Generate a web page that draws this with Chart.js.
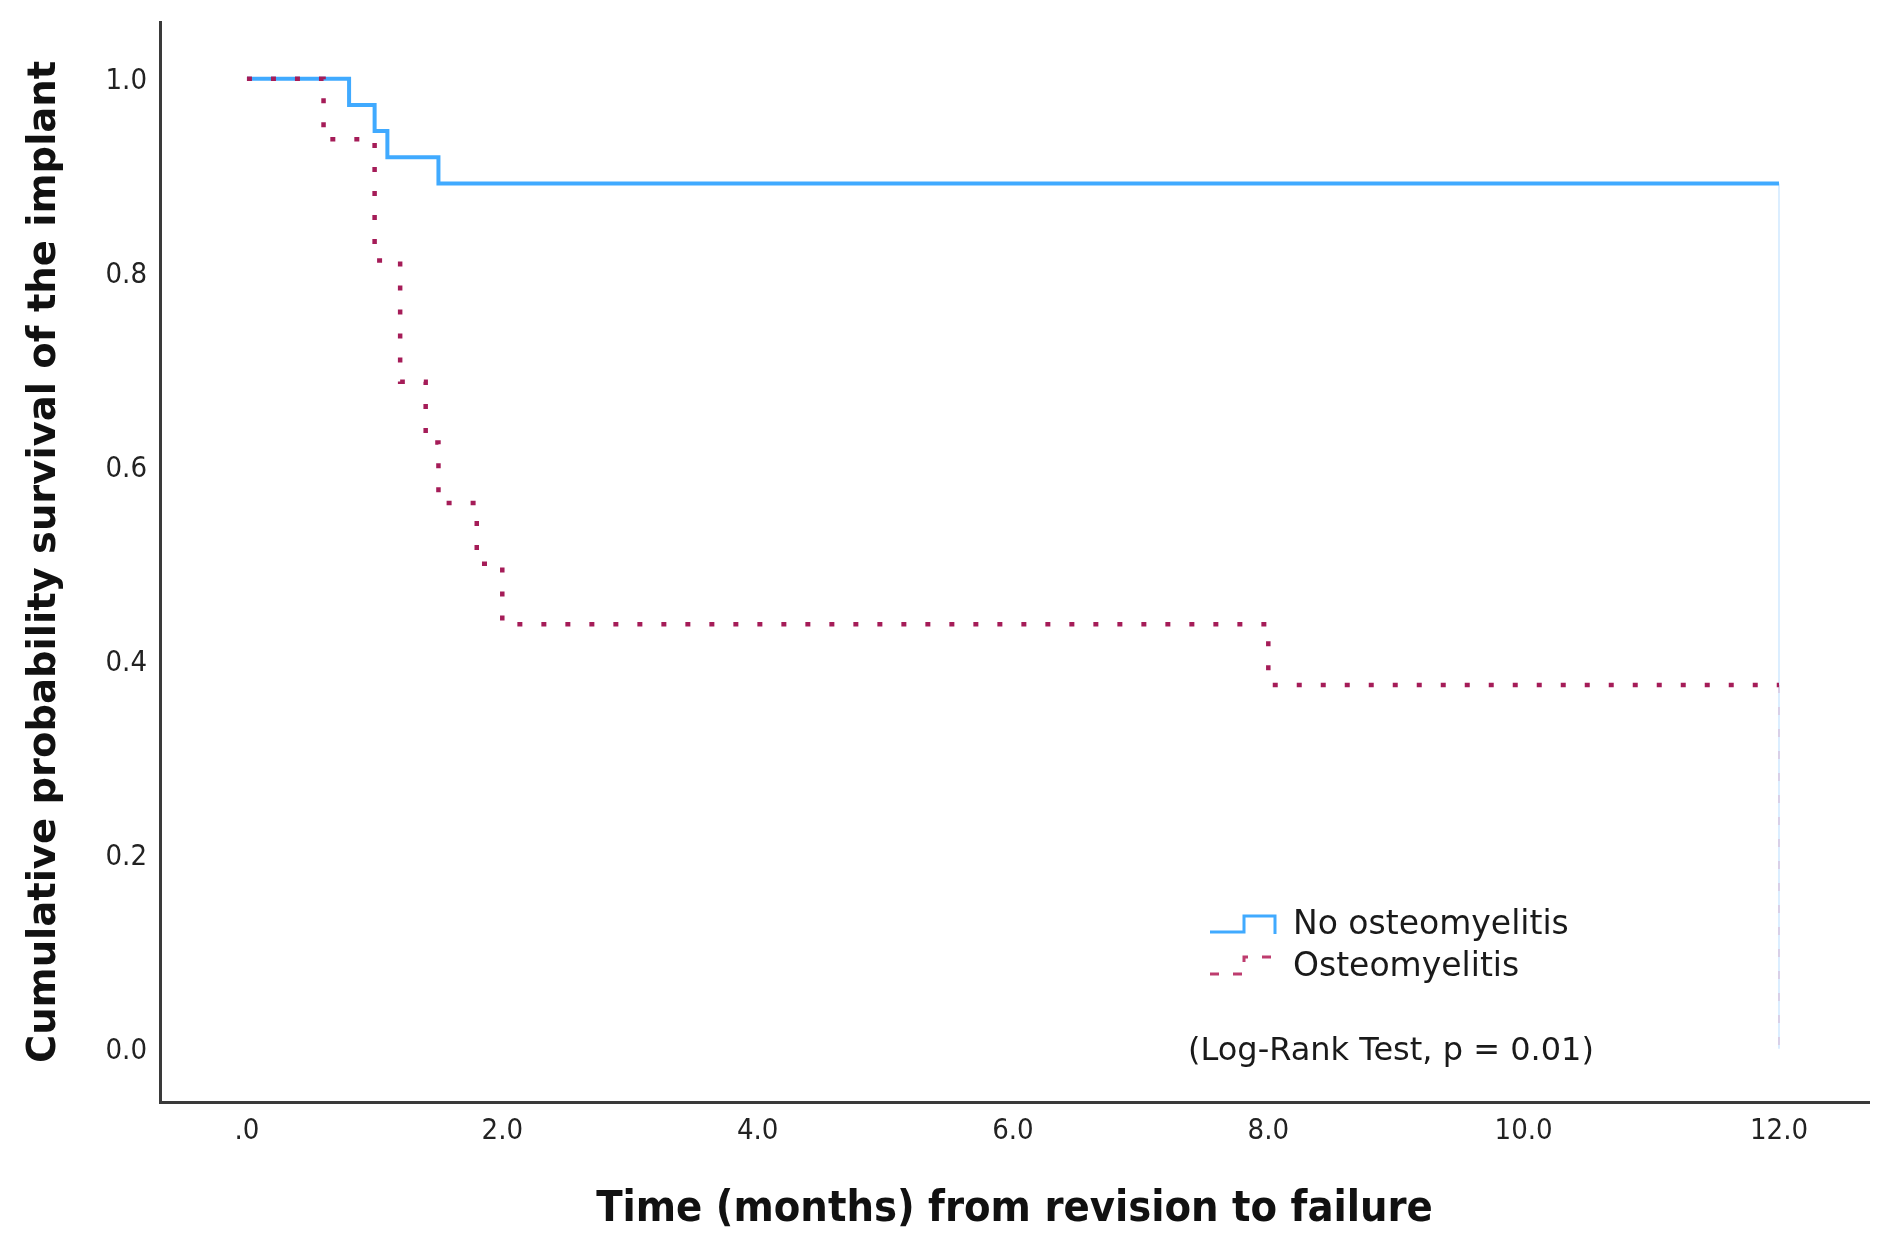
<!DOCTYPE html>
<html>
<head>
<meta charset="utf-8">
<script src="https://cdn.jsdelivr.net/npm/chart.js@4.4.1/dist/chart.umd.min.js"></script>
<style>
  html, body { margin: 0; padding: 0; background: #ffffff; }
  #wrap { width: 1892px; height: 1251px; position: relative; }
</style>
</head>
<body>
<div id="wrap"><canvas id="c"></canvas></div>
<script>
// ---- data ----
const seriesNames = ["No osteomyelitis", "Osteomyelitis"];
const timesNo = [0, 0.8, 1.0, 1.1, 1.5, 12.0];
const survNo  = [1.0, 0.973, 0.946, 0.919, 0.892, 0.892];
const timesOs = [0, 0.6, 1.0, 1.2, 1.4, 1.5, 1.8, 2.0, 8.0, 12.0];
const survOs  = [1.0, 0.9375, 0.8125, 0.6875, 0.625, 0.5625, 0.5, 0.4375, 0.375, 0.375];
const endTime = 12.0;
const xTickValues = [0, 2, 4, 6, 8, 10, 12];
const xTickLabels = [".0", "2.0", "4.0", "6.0", "8.0", "10.0", "12.0"];
const yTickValues = [0, 0.2, 0.4, 0.6, 0.8, 1.0];
const yTickLabels = ["0.0", "0.2", "0.4", "0.6", "0.8", "1.0"];
const xTitle = "Time (months) from revision to failure";
const yTitle = "Cumulative probability survival of the implant";
const noteText = "(Log-Rank Test, p = 0.01)";

const BLUE = "rgb(64,170,255)";
const RED = "rgb(165,28,88)";

function toPoints(xs, ys) { return xs.map((x, i) => ({ x: x, y: ys[i] })); }
const lastNo = survNo[survNo.length - 1];
const lastOs = survOs[survOs.length - 1];

const legendPlugin = {
  id: "kmLegend",
  afterDraw(chart) {
    const ctx = chart.ctx;
    ctx.save();
    // blue step symbol
    ctx.strokeStyle = BLUE;
    ctx.lineWidth = 3;
    ctx.setLineDash([]);
    ctx.beginPath();
    ctx.moveTo(1210, 932);
    ctx.lineTo(1244, 932);
    ctx.lineTo(1244, 916);
    ctx.lineTo(1275, 916);
    ctx.lineTo(1275, 934);
    ctx.stroke();
    // red dashed step symbol
    ctx.strokeStyle = "rgb(190,60,110)";
    ctx.lineWidth = 3;
    ctx.setLineDash([9, 14]);
    ctx.beginPath();
    ctx.moveTo(1210, 974);
    ctx.lineTo(1244, 974);
    ctx.lineTo(1244, 957);
    ctx.lineTo(1275, 957);
    ctx.stroke();
    ctx.setLineDash([]);
    // legend text
    ctx.fillStyle = "#1a1a1a";
    ctx.font = "33px 'DejaVu Sans'";
    ctx.textBaseline = "middle";
    ctx.textAlign = "left";
    ctx.fillText(seriesNames[0], 1293, 925);
    ctx.fillText(seriesNames[1], 1293, 967);
    // log-rank note
    ctx.font = "32px 'DejaVu Sans'";
    ctx.fillText(noteText, 1188, 1052);
    ctx.restore();
  }
};

const ctx = document.getElementById("c").getContext("2d");
new Chart(ctx, {
  type: "line",
  data: {
    datasets: [
      {
        label: seriesNames[1],
        data: toPoints(timesOs, survOs),
        borderColor: RED,
        borderWidth: 4.5,
        borderDash: [5, 19],
        borderCapStyle: "butt",
        stepped: "before",
        pointRadius: 0,
        fill: false
      },
      {
        label: seriesNames[0],
        data: toPoints(timesNo, survNo),
        borderColor: BLUE,
        borderWidth: 4,
        stepped: "before",
        pointRadius: 0,
        fill: false
      },
      {
        label: seriesNames[1] + " end",
        data: [{ x: endTime, y: lastOs }, { x: endTime, y: 0 }],
        borderColor: "rgba(200,80,130,0.25)",
        borderWidth: 1.5,
        borderDash: [8, 14],
        pointRadius: 0,
        fill: false
      },
      {
        label: seriesNames[0] + " end",
        data: [{ x: endTime, y: lastNo }, { x: endTime, y: 0 }],
        borderColor: "rgba(120,190,255,0.35)",
        borderWidth: 1.5,
        pointRadius: 0,
        fill: false
      }
    ]
  },
  options: {
    responsive: true,
    maintainAspectRatio: false,
    devicePixelRatio: 1,
    animation: false,
    layout: { padding: { top: 22, right: 23, left: 0, bottom: 0 } },
    plugins: {
      legend: { display: false },
      tooltip: { enabled: false }
    },
    scales: {
      x: {
        type: "linear",
        min: -0.681,
        max: 12.705,
        grid: { display: false, drawTicks: false },
        border: { display: true, color: "#3a3a3a", width: 3 },
        afterBuildTicks(scale) { scale.ticks = xTickValues.map(v => ({ value: v })); },
        afterFit(scale) { scale.height = 149; scale.paddingLeft = 0; scale.paddingRight = 0; },
        ticks: {
          autoSkip: false,
          maxRotation: 0,
          padding: 12,
          color: "#222",
          font: { family: "'DejaVu Sans Condensed', 'DejaVu Sans'", size: 29 },
          callback(value) {
            const i = xTickValues.indexOf(value);
            return i >= 0 ? xTickLabels[i] : "";
          }
        },
        title: {
          display: true,
          text: xTitle,
          color: "#111",
          font: { family: "'DejaVu Sans Condensed', 'DejaVu Sans'", size: 43, weight: "bold" },
          padding: { top: 0, bottom: 15 }
        }
      },
      y: {
        type: "linear",
        min: -0.055,
        max: 1.0585,
        grid: { display: false, drawTicks: false },
        border: { display: true, color: "#3a3a3a", width: 3 },
        afterBuildTicks(scale) { scale.ticks = yTickValues.map(v => ({ value: v })); },
        afterFit(scale) { scale.width = 160; scale.paddingTop = 0; scale.paddingBottom = 0; },
        ticks: {
          autoSkip: false,
          padding: 13,
          labelOffset: 3,
          color: "#222",
          font: { family: "'DejaVu Sans Condensed', 'DejaVu Sans'", size: 29 },
          callback(value) {
            const i = yTickValues.findIndex(v => Math.abs(v - value) < 1e-9);
            return i >= 0 ? yTickLabels[i] : "";
          }
        },
        title: {
          display: true,
          text: yTitle,
          color: "#111",
          font: { family: "'DejaVu Sans'", size: 38.5, weight: "bold" },
          padding: { top: 22, bottom: 0 }
        }
      }
    }
  },
  plugins: [legendPlugin]
});
</script>
</body>
</html>
